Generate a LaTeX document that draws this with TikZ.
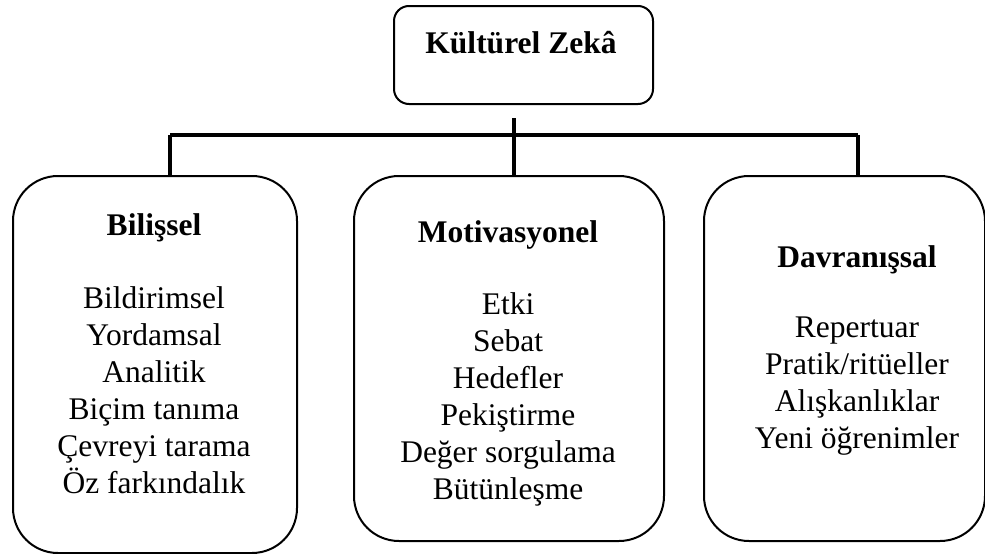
\documentclass[tikz,border=0pt]{standalone}
\usepackage{fontspec}
\setmainfont{Liberation Serif}
\begin{document}
\begin{tikzpicture}[x=1pt,y=-1pt,
  topbox/.style={draw, line width=2pt, rounded corners=15pt, inner sep=0pt, anchor=north west},
  catbox/.style={draw, line width=2pt, rounded corners=45pt, inner sep=0pt, anchor=north west},
  conn/.style={line width=3.5pt},
  txt/.style={font=\fontsize{31.5}{37}\selectfont, align=center, inner sep=0pt, anchor=base},
  ttl/.style={font=\fontsize{31.5}{37}\selectfont\bfseries, inner sep=0pt, anchor=base}]
\useasboundingbox (0,0) rectangle (985,554);
% boxes
\node[topbox, minimum width=259pt, minimum height=98pt] (top) at (393,5) {};
\node[catbox, minimum width=284pt, minimum height=377pt] (left) at (12,175) {};
\node[catbox, minimum width=310pt, minimum height=365pt] (mid) at (353,175) {};
\node[catbox, minimum width=281pt, minimum height=365pt] (right) at (703,175) {};
% texts
\node[ttl] (ttop) at (521,53) {Kültürel Zekâ};
\node[ttl] (tleft) at (154,235) {Bilişsel};
\node[txt] (ileft) at (154,493) {Bildirimsel\\Yordamsal\\Analitik\\Biçim tanıma\\Çevreyi tarama\\Öz farkındalık};
\node[ttl] (tmid) at (508,242) {Motivasyonel};
\node[txt] (imid) at (508,499) {Etki\\Sebat\\Hedefler\\Pekiştirme\\Değer sorgulama\\Bütünleşme};
\node[ttl] (tright) at (857,267) {Davranışsal};
\node[txt] (iright) at (857,448) {Repertuar\\Pratik/ritüeller\\Alışkanlıklar\\Yeni öğrenimler};
% connectors
\coordinate (hub) at (514,118);
\coordinate (lj) at (170,135);
\coordinate (rj) at (858,135);
\draw[conn] (lj) -- (rj);
\draw[conn] (hub) -- (hub |- mid.north);
\draw[conn] (lj) -- (lj |- left.north);
\draw[conn] (rj) -- (rj |- right.north);
\end{tikzpicture}
\end{document}
